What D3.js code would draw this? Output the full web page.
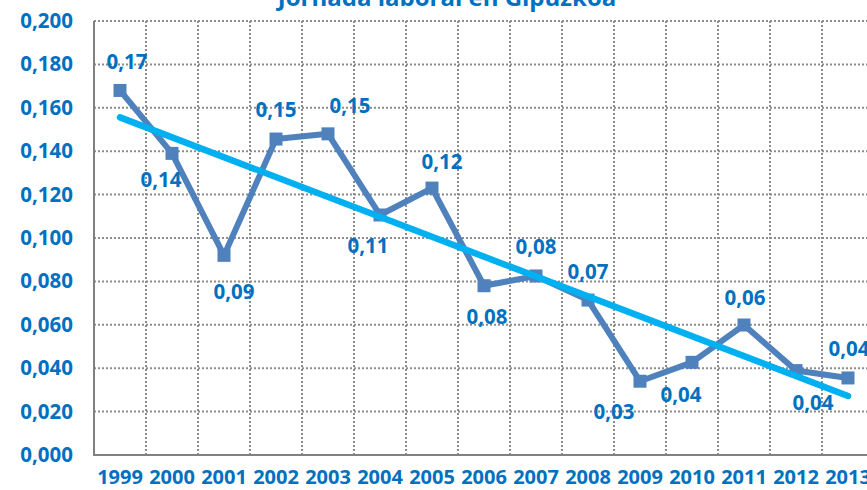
<!DOCTYPE html>
<html>
<head>
<meta charset="utf-8">
<script src="https://cdn.jsdelivr.net/npm/d3@7"></script>
<style>
  body { margin: 0; background: #fff; }
  text { font-family: "Open Sans", "Noto Sans", sans-serif; font-weight: bold; fill: #0070C0; }
</style>
</head>
<body>
<div class="chart"></div>
<script>
// values
var years = ["1999", "2000", "2001", "2002", "2003", "2004", "2005", "2006",
  "2007", "2008", "2009", "2010", "2011", "2012", "2013"];
var values = [0.168, 0.139, 0.092, 0.1456, 0.148, 0.1106, 0.123, 0.078,
  0.0825, 0.0714, 0.034, 0.0427, 0.0599, 0.0389, 0.0355];
// linear trend, first and last year
var trendValues = [0.1556, 0.0272];
var yTicks = [0, 0.02, 0.04, 0.06, 0.08, 0.1, 0.12, 0.14, 0.16, 0.18, 0.2];
var title = "Jornada laboral en Gipuzkoa";

// label nudges in px (layout only)
var labelNudge = [[7, -29], [-11, 26], [10, 36], [0, -30], [22, -29], [-12, 30],
  [10, -27], [3, 30], [0, -30], [0, -29], [-26, 30], [-11, 32], [1, -28],
  [17, 31], [1, -30]];

var svgWidth = 867;
var svgHeight = 490;
var margin = { top: 21, left: 94, bottom: 35 };
var plotRight = 874;   // plot runs past the window edge
var plotBottom = svgHeight - margin.bottom;
var fontSize = 20.5;

var es = d3.formatLocale({ decimal: ",", thousands: ".", grouping: [3], currency: ["", "€"] });

var svg = d3.select(".chart").append("svg")
  .attr("width", svgWidth)
  .attr("height", svgHeight);

var x = d3.scaleBand().domain(years).range([margin.left, plotRight]).padding(0);
var y = d3.scaleLinear().domain([0, 0.2]).range([plotBottom, margin.top]);

// horizontal grid
svg.append("g")
  .selectAll("line")
  .data(yTicks.slice(1))
  .enter()
  .append("line")
  .attr("x1", margin.left)
  .attr("x2", plotRight)
  .attr("y1", d => y(d))
  .attr("y2", d => y(d))
  .attr("stroke", "#8c8c8c")
  .attr("stroke-width", 2)
  .attr("stroke-dasharray", "2,2");

// vertical grid on category boundaries
svg.append("g")
  .selectAll("line")
  .data(years.slice(1))
  .enter()
  .append("line")
  .attr("x1", d => x(d))
  .attr("x2", d => x(d))
  .attr("y1", margin.top)
  .attr("y2", plotBottom)
  .attr("stroke", "#8c8c8c")
  .attr("stroke-width", 2)
  .attr("stroke-dasharray", "2,2");

// y axis labels
var leftAxis = d3.axisLeft(y).tickValues(yTicks).tickFormat(es.format(".3f")).tickSize(0).tickPadding(21);
var yAxis = svg.append("g")
  .attr("transform", `translate(${margin.left},0)`)
  .call(leftAxis);
yAxis.select(".domain").remove();
yAxis.selectAll("text").attr("font-size", fontSize).attr("font-family", null).attr("fill", null);

// x axis labels
var bottomAxis = d3.axisBottom(x).tickSize(0).tickPadding(15);
var xAxis = svg.append("g")
  .attr("transform", `translate(0,${plotBottom})`)
  .call(bottomAxis);
xAxis.select(".domain").remove();
xAxis.selectAll("text").attr("font-size", 20).attr("font-family", null).attr("fill", null);

// axis lines
svg.append("line")
  .attr("x1", margin.left).attr("x2", margin.left)
  .attr("y1", margin.top).attr("y2", plotBottom + 1)
  .attr("stroke", "#808080").attr("stroke-width", 2);
svg.append("line")
  .attr("x1", margin.left - 1).attr("x2", plotRight)
  .attr("y1", plotBottom).attr("y2", plotBottom)
  .attr("stroke", "#808080").attr("stroke-width", 2);

var cx = d => x(d) + x.bandwidth() / 2;

// data line
var line = d3.line()
  .x((d, i) => cx(years[i]))
  .y(d => y(d));

svg.append("path")
  .datum(values)
  .attr("d", line)
  .attr("fill", "none")
  .attr("stroke", "#4F81BD")
  .attr("stroke-width", 6)
  .attr("stroke-linejoin", "round");

svg.append("g")
  .selectAll("rect")
  .data(values)
  .enter()
  .append("rect")
  .attr("x", (d, i) => cx(years[i]) - 6.5)
  .attr("y", d => y(d) - 6.5)
  .attr("width", 13)
  .attr("height", 13)
  .attr("fill", "#4F81BD");

// trend line
svg.append("line")
  .attr("x1", cx(years[0]))
  .attr("y1", y(trendValues[0]))
  .attr("x2", cx(years[years.length - 1]))
  .attr("y2", y(trendValues[1]))
  .attr("stroke", "#00B0F0")
  .attr("stroke-width", 6.5)
  .attr("stroke-linecap", "round");

// data labels
svg.append("g")
  .selectAll("text")
  .data(values)
  .enter()
  .append("text")
  .attr("x", (d, i) => cx(years[i]) + labelNudge[i][0])
  .attr("y", (d, i) => y(d) + labelNudge[i][1])
  .attr("text-anchor", "middle")
  .attr("dominant-baseline", "central")
  .attr("font-size", fontSize)
  .text(d => es.format(".2f")(d));

// title, cut by the top edge as in the source
svg.append("text")
  .attr("x", 447)
  .attr("y", 6)
  .attr("text-anchor", "middle")
  .attr("font-size", 24)
  .text(title);
</script>
</body>
</html>
